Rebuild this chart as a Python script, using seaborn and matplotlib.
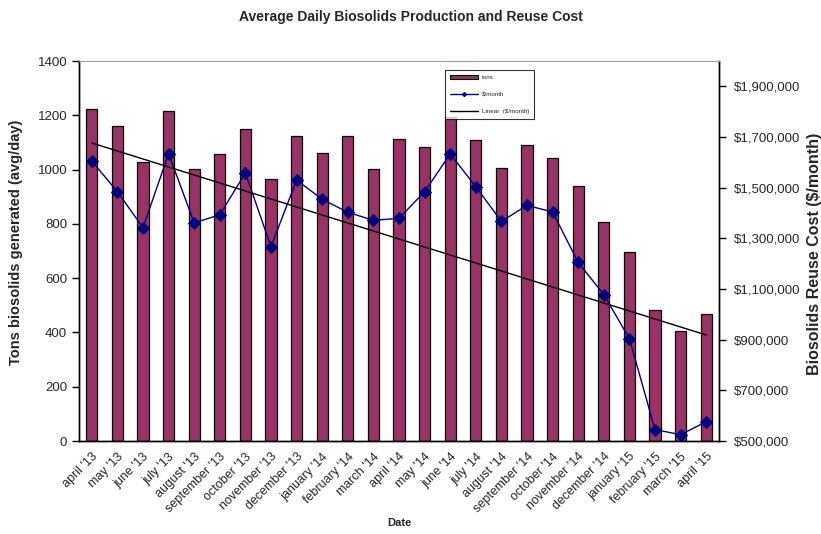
import numpy as np
import pandas as pd
import matplotlib
matplotlib.use("Agg")
import matplotlib.pyplot as plt
from matplotlib.patches import Patch
from matplotlib.lines import Line2D
from matplotlib.ticker import FuncFormatter, FixedLocator
import seaborn as sns

months = ["april '13", "may '13", "june '13", "july '13", "august '13", "september '13",
          "october '13", "november '13", "december '13", "january '14", "february '14",
          "march '14", "april '14", "may '14", "june '14", "july '14", "august '14",
          "september '14", "october '14", "november '14", "december '14", "january '15",
          "february '15", "march '15", "april '15"]

tons = [1223, 1162, 1027, 1217, 1001, 1056, 1148, 966, 1124, 1062, 1124, 1001, 1111,
        1083, 1195, 1108, 1005, 1089, 1044, 938, 808, 697, 481, 405, 467]

cost = [1605000, 1484000, 1342000, 1634000, 1361000, 1393000, 1558000, 1267000,
        1530000, 1454000, 1403000, 1371000, 1379000, 1484000, 1633000, 1504000,
        1367000, 1430000, 1404000, 1205000, 1078000, 904000, 545000, 525000, 576000]

left_ticks = [0, 200, 400, 600, 800, 1000, 1200, 1400]
right_ticks = [500000, 700000, 900000, 1100000, 1300000, 1500000, 1700000, 1900000]

sns.set_style("white")
plt.rcParams["font.family"] = ["Liberation Sans", "DejaVu Sans"]

df = pd.DataFrame({"month": months, "tons": tons, "cost": cost,
                   "pos": np.arange(len(months))})

fig = plt.figure(figsize=(8.21, 5.34), dpi=100)
ax = fig.add_axes([79 / 821, 1 - 441 / 534, 640 / 821, 380 / 534])

bar_color = "#993366"
line_color = "#000080"

sns.barplot(data=df, x="month", y="tons", color=bar_color, saturation=1,
            width=0.43, edgecolor="black", linewidth=0.9, ax=ax)
ax.set_xlim(-0.5, len(months) - 0.5)
ax.set_ylim(0, 1400)
ax.set_yticks(left_ticks)
ax.set_yticklabels([str(v) for v in left_ticks], fontsize=9.5)

# ticks on category boundaries, labels at category centres
ax.set_xticks(np.arange(len(months)))
ax.set_xticklabels(months, rotation=45, ha="right", rotation_mode="anchor", fontsize=9)
ax.tick_params(axis="x", length=0, pad=7)
ax.xaxis.set_minor_locator(FixedLocator(np.arange(-0.5, len(months), 1.0)))
ax.tick_params(axis="x", which="minor", length=5, width=1, direction="out", color="black")
ax.tick_params(axis="y", length=5, width=1, direction="out", color="black", left=True)

ax.set_xlabel("Date", fontsize=8, fontweight="bold", labelpad=2)
ax.set_ylabel("Tons biosolids generated (avg/day)", fontsize=10.5, fontweight="bold")
ax.yaxis.set_label_coords((23 - 79) / 640, (441 - 242) / 380)

ax2 = ax.twinx()
sns.lineplot(data=df, x="pos", y="cost", color=line_color, marker="D", markersize=6,
             markeredgecolor=line_color, linewidth=1.0, ax=ax2)
sns.regplot(data=df, x="pos", y="cost", scatter=False, ci=None, truncate=True,
            color="black", line_kws={"linewidth": 1.0}, ax=ax2)
ax2.set_xlim(-0.5, len(months) - 0.5)
ax2.set_ylim(500000, 2000000)
ax2.set_yticks(right_ticks)
ax2.yaxis.set_major_formatter(FuncFormatter(lambda v, p: "${:,.0f}".format(v)))
ax2.tick_params(axis="y", length=5, width=1, direction="out", color="black",
                right=True, labelsize=9.5, pad=6)
ax2.set_ylabel("Biosolids Reuse Cost ($/month)", fontsize=11.5, fontweight="bold")
ax2.yaxis.set_label_coords((807 - 79) / 640, (441 - 254) / 380)
ax2.set_xlabel("")

for a in (ax, ax2):
    for side in ("left", "right", "bottom"):
        a.spines[side].set_color("black")
        a.spines[side].set_linewidth(1.0)
ax.spines["top"].set_visible(False)
ax2.spines["top"].set_color("#a0a0a0")
ax2.spines["top"].set_linewidth(0.8)

handles = [
    Patch(facecolor=bar_color, edgecolor="black", linewidth=0.8),
    Line2D([0], [0], color=line_color, marker="D", markersize=2, linewidth=1.0),
    Line2D([0], [0], color="black", linewidth=1.0),
]
labels = ["tons", "$/month", "Linear  ($/month)"]
leg = ax2.legend(handles, labels, loc="upper left",
                 bbox_to_anchor=((445 - 79) / 640, (441 - 70) / 380),
                 fontsize=4.5, frameon=True, fancybox=False, edgecolor="black",
                 handlelength=4.5, handleheight=0.5, labelspacing=1.9,
                 borderpad=0.8, handletextpad=0.6, borderaxespad=0)
leg.get_frame().set_linewidth(0.8)

fig.suptitle("Average Daily Biosolids Production and Reuse Cost", fontsize=10,
             fontweight="bold", y=1 - 17 / 534, va="center")

fig.savefig("out.png", dpi=100)
